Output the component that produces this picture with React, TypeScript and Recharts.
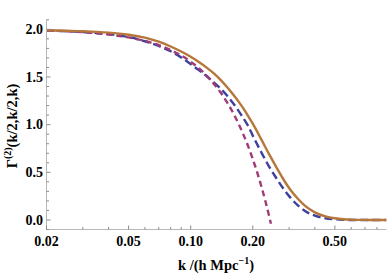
import React from 'react';
import { LineChart, Line, XAxis, YAxis } from 'recharts';

// k grid (h/Mpc) shared by the two resummed curves
const kGrid = [0.02, 0.025, 0.03, 0.035, 0.04, 0.045, 0.05, 0.06, 0.07, 0.08, 0.09, 0.1, 0.11, 0.12, 0.13, 0.14, 0.15, 0.16, 0.17, 0.18, 0.19, 0.2, 0.22, 0.24, 0.26, 0.28, 0.3, 0.33, 0.36, 0.4, 0.45, 0.5, 0.55, 0.6, 0.7, 0.8, 0.89];
const gammaSolid = [1.99, 1.985, 1.98, 1.973, 1.965, 1.955, 1.943, 1.912, 1.87, 1.82, 1.767, 1.712, 1.655, 1.596, 1.535, 1.467, 1.395, 1.322, 1.247, 1.17, 1.09, 1.01, 0.845, 0.69, 0.555, 0.435, 0.335, 0.225, 0.145, 0.08, 0.038, 0.018, 0.008, 0.004, 0.001, 0, 0];
const gammaBlue = [1.988, 1.98, 1.972, 1.962, 1.95, 1.935, 1.918, 1.875, 1.825, 1.77, 1.705, 1.635, 1.57, 1.505, 1.44, 1.375, 1.305, 1.23, 1.15, 1.068, 0.985, 0.885, 0.71, 0.56, 0.44, 0.335, 0.25, 0.155, 0.092, 0.045, 0.018, 0.007, 0.002, 0, 0, 0, 0];

// perturbative curve, stops where it leaves the frame
const kPert = [0.02, 0.03, 0.04, 0.05, 0.06, 0.07, 0.08, 0.09, 0.1, 0.11, 0.12, 0.13, 0.14, 0.15, 0.16, 0.17, 0.18, 0.19, 0.2, 0.21, 0.22, 0.23, 0.24, 0.245];
const gammaPert = [1.987, 1.97, 1.946, 1.915, 1.878, 1.834, 1.782, 1.725, 1.66, 1.589, 1.51, 1.425, 1.334, 1.235, 1.13, 1.017, 0.898, 0.773, 0.64, 0.501, 0.355, 0.202, 0.042, -0.04];

const xMajor = [0.02, 0.05, 0.1, 0.2, 0.5];
const xMajorLabels = ['0.02', '0.05', '0.10', '0.20', '0.50'];
const xMinor = [0.03, 0.04, 0.06, 0.07, 0.08, 0.09, 0.3, 0.4, 0.6, 0.7, 0.8];
const yMajor = [0, 0.5, 1, 1.5, 2];
const yMajorLabels = ['0.0', '0.5', '1.0', '1.5', '2.0'];
const yMinor = [-0.1, 0.1, 0.2, 0.3, 0.4, 0.6, 0.7, 0.8, 0.9, 1.1, 1.2, 1.3, 1.4, 1.6, 1.7, 1.8, 1.9, 2.1];

const solidData = kGrid.map((k, i) => ({ k, v: gammaSolid[i] }));
const blueData = kGrid.map((k, i) => ({ k, v: gammaBlue[i] }));
const pertData = kPert.map((k, i) => ({ k, v: gammaPert[i] }));

const xTicks = [...xMajor, ...xMinor].sort((a, b) => a - b);
const yTicks = [...yMajor, ...yMinor].sort((a, b) => a - b);

const FONT = '"Liberation Serif", "Times New Roman", serif';
const FRAME = '#b8b8b8';
const TICK = '#8c8c8c';

const BottomTick = (props: any) => {
  const { x, y, payload } = props;
  const i = xMajor.indexOf(payload.value);
  return (
    <g>
      <line x1={x} x2={x} y1={y} y2={y - (i >= 0 ? 4 : 2.5)} stroke={TICK} />
      {i >= 0 && (
        <text x={x} y={y + 16.5} textAnchor="middle" fontFamily={FONT} fontWeight="bold" fontSize={14} fill="#000">
          {xMajorLabels[i]}
        </text>
      )}
    </g>
  );
};

const TopTick = (props: any) => {
  const { x, y, payload } = props;
  const major = xMajor.includes(payload.value);
  return <line x1={x} x2={x} y1={y} y2={y + (major ? 4 : 2.5)} stroke={TICK} />;
};

const LeftTick = (props: any) => {
  const { x, y, payload } = props;
  const i = yMajor.indexOf(payload.value);
  return (
    <g>
      <line x1={x} x2={x + (i >= 0 ? 4 : 2.5)} y1={y} y2={y} stroke={TICK} />
      {i >= 0 && (
        <text x={x - 3.5} y={y} dy="0.33em" textAnchor="end" fontFamily={FONT} fontWeight="bold" fontSize={14} fill="#000">
          {yMajorLabels[i]}
        </text>
      )}
    </g>
  );
};

const RightTick = (props: any) => {
  const { x, y, payload } = props;
  const major = yMajor.includes(payload.value);
  return <line x1={x} x2={x - (major ? 4 : 2.5)} y1={y} y2={y} stroke={TICK} />;
};

export default function App() {
  return (
    <div style={{ position: 'absolute', left: 0, top: 0, width: 388, height: 273, background: '#fff' }}>
      <LineChart width={388} height={273} margin={{ top: 19.5, right: 1.5, bottom: 0, left: 0 }}>
        <XAxis
          xAxisId={0}
          dataKey="k"
          type="number"
          scale="log"
          domain={[0.02, 0.89]}
          allowDataOverflow
          ticks={xTicks}
          interval={0}
          height={43.5}
          tickSize={0}
          tickMargin={0}
          tickLine={false}
          axisLine={{ stroke: FRAME }}
          tick={<BottomTick />}
        />
        <XAxis
          xAxisId="top"
          orientation="top"
          dataKey="k"
          type="number"
          scale="log"
          domain={[0.02, 0.89]}
          allowDataOverflow
          ticks={xTicks}
          interval={0}
          height={0}
          tickSize={0}
          tickMargin={0}
          tickLine={false}
          axisLine={{ stroke: FRAME }}
          tick={<TopTick />}
        />
        <YAxis
          yAxisId={0}
          type="number"
          domain={[-0.1, 2.103]}
          allowDataOverflow
          ticks={yTicks}
          interval={0}
          width={46.5}
          tickSize={0}
          tickMargin={0}
          tickLine={false}
          axisLine={{ stroke: FRAME }}
          tick={<LeftTick />}
        />
        <YAxis
          yAxisId="right"
          orientation="right"
          type="number"
          domain={[-0.1, 2.103]}
          allowDataOverflow
          ticks={yTicks}
          interval={0}
          width={0}
          tickSize={0}
          tickMargin={0}
          tickLine={false}
          axisLine={{ stroke: FRAME }}
          tick={<RightTick />}
        />
        <Line data={blueData} dataKey="v" type="monotone" stroke="#3f3f9e" strokeWidth={2.4} strokeDasharray="8 4" dot={false} isAnimationActive={false} />
        <Line data={pertData} dataKey="v" type="monotone" stroke="#9e3c76" strokeWidth={2.4} strokeDasharray="6 4" dot={false} isAnimationActive={false} />
        <Line data={solidData} dataKey="v" type="monotone" stroke="#b5773a" strokeWidth={2.4} dot={false} isAnimationActive={false} />
      </LineChart>
      <svg width={388} height={273} style={{ position: 'absolute', left: 0, top: 0, pointerEvents: 'none' }}>
        <text transform="translate(17,126) rotate(-90)" textAnchor="middle" fontFamily={FONT} fontWeight="bold" fontSize={14.5} fill="#000">
          Γ<tspan dy={-6} fontSize={10}>(2)</tspan>
          <tspan dy={6}>(k/2,k/2,k)</tspan>
        </text>
        <text x={216} y={269.5} textAnchor="middle" fontFamily={FONT} fontWeight="bold" fontSize={14.5} fill="#000">
          k /(h Mpc<tspan dy={-6} fontSize={10}>−1</tspan>
          <tspan dy={6}>)</tspan>
        </text>
      </svg>
    </div>
  );
}
